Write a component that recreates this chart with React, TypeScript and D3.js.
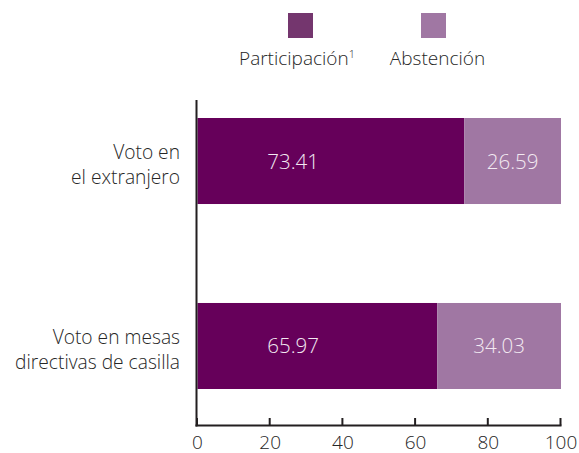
import React from "react";
import * as d3 from "d3";

const categories = [
  ["Voto en", "el extranjero"],
  ["Voto en mesas", "directivas de casilla"],
];
const participacion = [73.41, 65.97];
const abstencion = [26.59, 34.03];
const xTicks = [0, 20, 40, 60, 80, 100];
const seriesNames = ["Participación", "Abstención"];
const participacionLabelAt = 26.3;

const W = 579;
const H = 453;
const FONT = "'Open Sans', 'Noto Sans', sans-serif";
const TEXT = "#262626";
const AXIS = "#231f20";
const C_PART = "#66005a";
const C_PART_LEG = "#74366e";
const C_ABS = "#a077a3";

export default function App() {
  const x = d3.scaleLinear().domain([0, 100]).range([197.5, 561]);
  const keys = categories.map((c) => c.join(" "));
  const y = d3.scaleBand<string>().domain(keys).range([118, 389]).paddingInner(0.535).paddingOuter(0);
  const bw = y.bandwidth();
  const axisY = 425.5;

  return (
    <svg width={W} height={H} style={{ position: "absolute", left: 0, top: 0 }} fontFamily={FONT}>
      {/* legend */}
      <rect x={288} y={13} width={25} height={25} fill={C_PART_LEG} />
      <rect x={421} y={13} width={25} height={25} fill={C_ABS} />
      <text x={297} y={65} textAnchor="middle" fontSize={19} fill={TEXT} fontWeight={300}>
        {seriesNames[0]}
        <tspan fontSize={11} dy={-7}>1</tspan>
      </text>
      <text x={437.5} y={65} textAnchor="middle" fontSize={19} fill={TEXT} fontWeight={300}>
        {seriesNames[1]}
      </text>

      {/* bars */}
      {keys.map((k, i) => {
        const y0 = y(k)!;
        const cy = y0 + bw / 2;
        const p = participacion[i];
        const a = abstencion[i];
        return (
          <g key={k}>
            <rect x={x(0)} y={y0} width={x(p) - x(0)} height={bw} fill={C_PART} />
            <rect x={x(p)} y={y0} width={x(p + a) - x(p)} height={bw} fill={C_ABS} />
            <text x={x(participacionLabelAt)} y={cy + 7.5} textAnchor="middle" fontSize={20.5} fill="#f3eaf2" fontWeight={300}>
              {p.toFixed(2)}
            </text>
            <text x={(x(p) + x(p + a)) / 2} y={cy + 7.5} textAnchor="middle" fontSize={20.5} fill="#f3eaf2" fontWeight={300}>
              {a.toFixed(2)}
            </text>
            {categories[i].map((line, j) => (
              <text key={j} x={180} y={cy - 2 + j * 25} textAnchor="end" fontSize={19.2} fill={TEXT} fontWeight={300}>
                {line}
              </text>
            ))}
          </g>
        );
      })}

      {/* y axis line */}
      <line x1={196.5} x2={196.5} y1={100} y2={axisY + 1} stroke={AXIS} strokeWidth={2} />
      {/* x axis */}
      <line x1={195.5} x2={x(100) + 0.5} y1={axisY} y2={axisY} stroke={AXIS} strokeWidth={2} />
      {xTicks.map((t) => (
        <g key={t}>
          <line x1={x(t) - 0.5} x2={x(t) - 0.5} y1={axisY} y2={418} stroke={AXIS} strokeWidth={2} />
          <text x={x(t)} y={448.5} textAnchor="middle" fontSize={19} fill={TEXT} fontWeight={300}>
            {t}
          </text>
        </g>
      ))}
    </svg>
  );
}
